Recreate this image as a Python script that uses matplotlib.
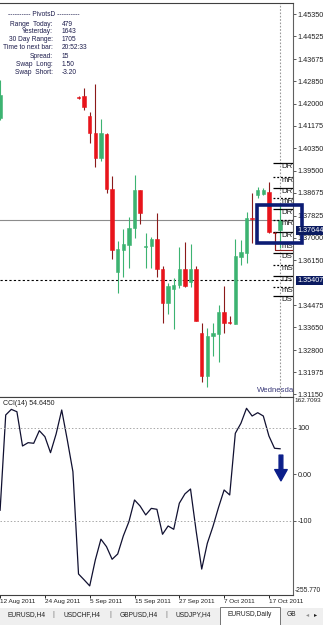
import matplotlib
matplotlib.use("Agg")
import matplotlib.pyplot as plt
import numpy as np
from matplotlib.patches import Rectangle

plt.rcParams['font.family'] = ['Liberation Sans', 'DejaVu Sans']

# ---------------- data ----------------
bars = list(range(51))
nan = np.nan
opens = [1.41473] + [nan]*13 + [1.4225, 1.42296, 1.41548, 1.40901, 1.39967, 1.40875, 1.38819,
         1.35728, 1.36539, 1.36726, 1.37373, 1.38782, 1.3664, 1.36688, 1.3695, 1.35829,
         1.34546, 1.3507, 1.3523, 1.35829, 1.35354, 1.35817, 1.33425, 1.31829, 1.33324,
         1.33399, 1.34232, 1.33847, 1.33773, 1.36288, 1.36416, 1.37735, 1.38595, 1.38621,
         1.38718, 1.37223, 1.37287]
highs = [1.42894] + [nan]*13 + [1.4230, 1.42584, 1.41686, 1.42733, 1.41436, 1.40905, 1.39316,
         1.36887, 1.37313, 1.37784, 1.39343, 1.38790, 1.37163, 1.37014, 1.37933, 1.35952,
         1.35294, 1.35481, 1.3664, 1.36849, 1.36752, 1.35952, 1.33799, 1.33612, 1.33799,
         1.34483, 1.35193, 1.34072, 1.36939, 1.36913, 1.37971, 1.38658, 1.38883, 1.38838,
         1.39092, 1.37223, 1.38221]
lows = [1.41395] + [nan]*13 + [1.4218, 1.41772, 1.4055, 1.39653, 1.39877, 1.38658, 1.36202,
        1.34943, 1.35541, 1.35855, 1.36976, 1.37511, 1.35855, 1.35855, 1.35541, 1.33799,
        1.34146, 1.33574, 1.35107, 1.3515, 1.35144, 1.3388, 1.31593, 1.31406, 1.32576,
        1.32363, 1.33447, 1.3379, 1.3376, 1.35978, 1.36064, 1.36789, 1.38483, 1.3858,
        1.37186, 1.36539, 1.36614]
closes = [1.42333] + [nan]*13 + [1.4222, 1.41873, 1.40901, 1.39967, 1.40901, 1.38808, 1.36539,
          1.36565, 1.36763, 1.3735, 1.38782, 1.37911, 1.367, 1.36939, 1.35829, 1.34546,
          1.35193, 1.3523, 1.35829, 1.35193, 1.35829, 1.33896, 1.31829, 1.33335, 1.33447,
          1.34232, 1.33821, 1.33799, 1.36315, 1.36475, 1.37724, 1.37687, 1.38782, 1.38782,
          1.37223, 1.37174, 1.37644]

cci = [-77, 127, 139, 134, 60.6, 67.7, 66.4, 93.4, 80.5, 46.3, 86.3, 137.7, 73.4, 5.6,
       -213.5, -226, -239, -183.5, -139, -155, -182, -170.7, -132, -101.5, -55, -68, -87,
       -73, -75, -128.5, -110.7, -117.8, -62, -42, -31.5, -121, -203, -147.8, -112, -71,
       -33.6, -44.3, 87.8, 109.2, 141.3, 124.8, 131.9, 124.8, 82, 55.7, 54.645]

price_ticks = [1.45350, 1.44525, 1.43675, 1.42850, 1.42000, 1.41175, 1.40350, 1.39500,
               1.38675, 1.37825, 1.37000, 1.36150, 1.34475, 1.33650, 1.32800, 1.31975, 1.31150]
cci_ticks = [100, 0, -100]
cci_tick_labels = ['100', '0.00', '-100']
cci_max, cci_min = 162.7093, -255.770

date_bars = [0, 8, 16, 24, 32, 40, 48]
date_labels = ['12 Aug 2011', '24 Aug 2011', '5 Sep 2011', '15 Sep 2011',
               '27 Sep 2011', '7 Oct 2011', '17 Oct 2011']

pivot_names = ['DR', 'mR', 'DR', 'mR', 'DR', 'mR', 'DR', 'mS', 'DS', 'mS', 'DS', 'mS', 'DS']
pivot_levels = [1.3978, 1.39279, 1.38868, 1.38483, 1.38072, 1.3766, 1.37223, 1.368,
                1.36427, 1.35978, 1.35567, 1.35167, 1.3483]

bid = 1.37644
hline_price = 1.35407

info_labels = ['Range  Today:', 'Yesterday:', '30 Day Range:', 'Time to next bar:',
               'Spread:', 'Swap  Long:', 'Swap  Short:']
info_values = ['479', '1643', '1705', '20:52:33', '15', '1.50', '-3.20']

tabs = ['EURUSD,H4', 'USDCHF,H4', 'GBPUSD,H4', 'USDJPY,H4', 'EURUSD,Daily', 'GB']

# ---------------- figure ----------------
W, H = 323, 625
fig = plt.figure(figsize=(W/100, H/100), dpi=100)
fig.patch.set_facecolor('white')

def fr(x0, y0, x1, y1):
    return [x0/W, 1 - y1/H, (x1-x0)/W, (y1-y0)/H]

ax = fig.add_axes(fr(0, 3, 293, 397))
axc = fig.add_axes(fr(0, 397, 293, 595))

GREEN = '#3cb371'
RED = '#e8141b'
RED_WICK = '#8b1a1a'
NAVY = '#0c1c74'
TXT = '#1c1c4c'

o = np.array(opens); c = np.array(closes); h = np.array(highs); l = np.array(lows)
x = np.array(bars)
up = c >= o
wick_col = [GREEN if u else RED_WICK for u in up]
ax.vlines(x, l, h, colors=wick_col, lw=0.8, zorder=2)
body_col = [GREEN if u else RED for u in up]
ax.bar(x, c - o, bottom=o, width=0.6, color=body_col, edgecolor=body_col, lw=0.4, zorder=3)

ax.set_xlim(-0.02, 52.3)
ax.set_ylim(1.31044, 1.45772)

# horizontal lines
ax.axhline(bid, color='#8c8c8c', lw=0.8, zorder=1)
ax.axhline(hline_price, color='black', lw=0.8, ls=(0, (2, 2)), zorder=1)
ax.axvline(50, color='#9a9a9a', lw=0.8, ls=(0, (1.5, 1.5)), zorder=1)

# pivot levels
for name, lev in zip(pivot_names, pivot_levels):
    ls = '-' if name.startswith('D') else (0, (1.5, 1.5))
    ax.hlines(lev, 48.75, 52.3, colors='black', lw=0.9, linestyles=ls, zorder=4)
    ax.text(50.3, lev, name, fontsize=5.6, color='#202020', va='top', ha='left',
            clip_on=True, zorder=4)

# red lower level segment
ax.plot([49, 49, 52.3], [1.37223, 1.36539, 1.36539], color=RED_WICK, lw=0.8, zorder=4)

# blue rectangle
rect = Rectangle((45.87, 1.36800), 53.9 - 45.87, 1.38221 - 1.36800, fill=False,
                 edgecolor=NAVY, lw=2.6, clip_on=False, zorder=10)
ax.add_patch(rect)

ax.text(45.9, 1.3117, 'Wednesday', fontsize=5.6, color='#3b3b7a', ha='left', va='bottom',
        clip_on=True)

# axis styling
for a in (ax, axc):
    a.spines['left'].set_visible(False)
    a.spines['right'].set_color('#606060')
    a.spines['top'].set_color('#404040')
    a.spines['bottom'].set_color('#404040')
    a.yaxis.tick_right()
    a.tick_params(axis='y', length=2.5, width=0.6, color='#404040', labelsize=5.2,
                  pad=1, labelcolor='#202020')
    a.set_facecolor('white')

ax.set_xticks([])
ax.set_yticks(price_ticks)
ax.set_yticklabels([f'{t:.5f}' for t in price_ticks])

# price labels highlighted
ax.annotate(f'{bid:.5f}', xy=(1.0, bid), xycoords=('axes fraction', 'data'),
            xytext=(3, -7), textcoords='offset points', fontsize=5.2, color='white',
            va='center', ha='left', annotation_clip=False, zorder=11,
            bbox=dict(boxstyle='square,pad=0.15', fc='#0a1a60', ec='none'))
ax.annotate(f'{hline_price:.5f}', xy=(1.0, hline_price), xycoords=('axes fraction', 'data'),
            xytext=(3, 0), textcoords='offset points', fontsize=5.2, color='white',
            va='center', ha='left', annotation_clip=False, zorder=11,
            bbox=dict(boxstyle='square,pad=0.15', fc='#0a1a60', ec='none'))

# ---------------- CCI ----------------
axc.plot(x, cci, color='#101030', lw=0.9)
axc.axhline(100, color='#a8a8a8', lw=0.7, ls=(0, (1.5, 2)))
axc.axhline(-100, color='#a8a8a8', lw=0.7, ls=(0, (1.5, 2)))
axc.set_xlim(-0.02, 52.3)
axc.set_ylim(-258.5, 165.5)
axc.set_yticks(cci_ticks)
axc.set_yticklabels(cci_tick_labels)
axc.text(1.006, cci_max, f'{cci_max:.4f}', transform=axc.get_yaxis_transform(),
         fontsize=4.6, color='#202020', va='top', ha='left', clip_on=False)
axc.text(1.006, cci_min, f'{cci_min:.3f}', transform=axc.get_yaxis_transform(),
         fontsize=4.8, color='#202020', va='bottom', ha='left', clip_on=False)
axc.set_xticks(date_bars)
axc.set_xticklabels(date_labels)
axc.tick_params(axis='x', length=2, width=0.6, labelsize=4.6, pad=1, labelcolor='#202020')
for t in axc.get_xticklabels():
    t.set_ha('left')
axc.text(0.01, 0.985, f'CCI(14) {cci[-1]:.4f}', transform=axc.transAxes, fontsize=5,
         color='#202020', va='top', ha='left')

axc.annotate('', xy=(50.15, -20), xytext=(50.15, 47),
             arrowprops=dict(arrowstyle='simple,head_length=0.9,head_width=1.0,tail_width=0.3',
                             mutation_scale=9, fc='#0b1e8a', ec='#0b1e8a'),
             annotation_clip=False)

# ---------------- info panel ----------------
fig.text(44/W, 1 - 15/H, '---------- PivotsD ----------', fontsize=4.8, color=TXT,
         ha='center', va='center')
ys = [24, 31.7, 39.3, 47.7, 56, 64, 72.3]
for lab, val, yy in zip(info_labels, info_values, ys):
    fig.text(53/W, 1 - yy/H, lab, fontsize=4.8, color=TXT, ha='right', va='center')
    fig.text(61.5/W, 1 - yy/H, val, fontsize=4.8, color=TXT, ha='left', va='center')

# ---------------- tabs ----------------
fig.patches.append(Rectangle((0, 0), 1, 17/H, transform=fig.transFigure, fc='#efefef',
                             ec='none', zorder=0))
fig.patches.append(Rectangle((220/W, 0), 60/W, 18/H, transform=fig.transFigure, fc='white',
                             ec='#606060', lw=0.6, zorder=1))
tab_x = [26.7, 81.7, 138.3, 193.3, 250, 291]
for t, tx in zip(tabs, tab_x):
    fig.text(tx/W, 1 - 615/H, t, fontsize=4.8, color='#202020', ha='center', va='center')
for sx in [53.3, 110, 166.7]:
    fig.text(sx/W, 1 - 615/H, '|', fontsize=5, color='#707070', ha='center', va='center')
fig.text(308/W, 1 - 615/H, '◂', fontsize=4.5, color='#909090', ha='center', va='center')
fig.text(316/W, 1 - 615/H, '▸', fontsize=4.5, color='#202020', ha='center', va='center')

fig.savefig('out.png', dpi=100)
